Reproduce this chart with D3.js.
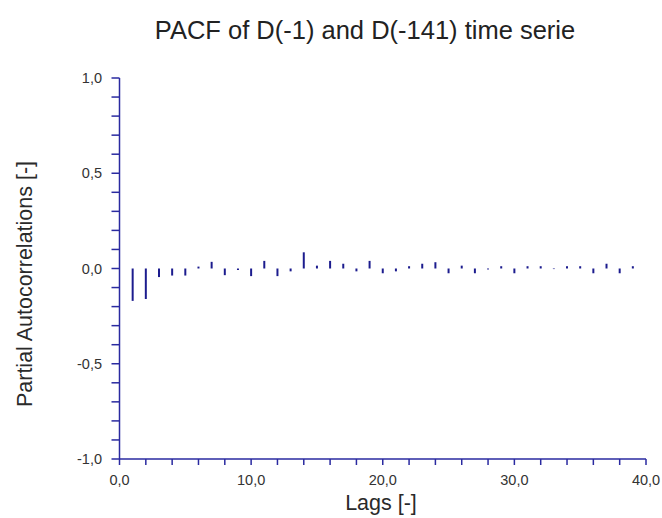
<!DOCTYPE html>
<html lang="en">
<head>
    <meta charset="UTF-8">
    <title>PACF</title>
    <script src="https://d3js.org/d3.v7.min.js"></script>
    <style>
        body {
            margin: 0;
            background: #fff;
            font-family: "Liberation Sans", Arial, sans-serif;
        }
        svg { display: block; }
        .tick-label { font-size: 14.5px; fill: #333; }
        .title { font-size: 25.5px; fill: #222; }
        .axis-title { font-size: 21.5px; fill: #2a2a2a; }
    </style>
</head>
<body>
    <svg width="662" height="518"></svg>

    <script>
        // lags and partial autocorrelation values
        const lags = d3.range(1, 40);
        const pacf = [
            -0.17, -0.16, -0.045, -0.037, -0.037, 0.01, 0.035, -0.035, -0.008, -0.04,
            0.04, -0.04, -0.015, 0.085, 0.015, 0.04, 0.025, -0.015, 0.04, -0.025,
            -0.015, 0.012, 0.025, 0.033, -0.025, 0.015, -0.025, -0.005, 0.012, -0.025,
            0.012, 0.012, -0.003, 0.012, 0.012, -0.025, 0.025, -0.025, 0.012
        ];
        const xTicks = [0, 10, 20, 30, 40];
        const yTicks = [-1, -0.5, 0, 0.5, 1];

        const axisColor = "#2a2aa0";
        const barColor = "#1c1c8e";
        const fmt = v => d3.format(".1f")(v).replace(".", ",").replace("−", "-");

        const svg = d3.select("svg");

        const x = d3.scaleLinear().domain([0, 40]).range([119.5, 646]);
        const y = d3.scaleLinear().domain([-1, 1]).range([459, 78]);

        // bars
        svg.append("g")
            .selectAll("line")
            .data(lags)
            .join("line")
            .attr("x1", d => x(d))
            .attr("x2", d => x(d))
            .attr("y1", y(0))
            .attr("y2", (d, i) => y(pacf[i]))
            .attr("stroke", barColor)
            .attr("stroke-width", 2);

        // y axis
        const yAxis = svg.append("g");
        yAxis.append("line")
            .attr("x1", x(0)).attr("x2", x(0))
            .attr("y1", y(1)).attr("y2", y(-1))
            .attr("stroke", axisColor).attr("stroke-width", 1.5);
        yAxis.selectAll(".ytick")
            .data(d3.range(-10, 11).map(d => d / 10))
            .join("line")
            .attr("x1", x(0) - 8).attr("x2", x(0))
            .attr("y1", d => y(d)).attr("y2", d => y(d))
            .attr("stroke", axisColor).attr("stroke-width", 1.5);
        yAxis.selectAll("text")
            .data(yTicks)
            .join("text")
            .attr("class", "tick-label")
            .attr("x", 102)
            .attr("y", d => y(d))
            .attr("dy", "0.35em")
            .attr("text-anchor", "end")
            .text(fmt);

        // x axis
        const xAxis = svg.append("g");
        xAxis.append("line")
            .attr("x1", x(0)).attr("x2", x(40))
            .attr("y1", y(-1)).attr("y2", y(-1))
            .attr("stroke", axisColor).attr("stroke-width", 1.5);
        xAxis.selectAll(".xtick")
            .data(d3.range(0, 41, 2))
            .join("line")
            .attr("x1", d => x(d)).attr("x2", d => x(d))
            .attr("y1", y(-1)).attr("y2", y(-1) + 6)
            .attr("stroke", axisColor).attr("stroke-width", 1.5);
        xAxis.selectAll("text")
            .data(xTicks)
            .join("text")
            .attr("class", "tick-label")
            .attr("x", d => x(d))
            .attr("y", 485)
            .attr("text-anchor", "middle")
            .text(fmt);

        // titles
        svg.append("text")
            .attr("class", "title")
            .attr("x", 365).attr("y", 39)
            .attr("text-anchor", "middle")
            .text("PACF of D(-1) and D(-141) time serie");

        svg.append("text")
            .attr("class", "axis-title")
            .attr("x", 381).attr("y", 510)
            .attr("text-anchor", "middle")
            .text("Lags [-]");

        svg.append("text")
            .attr("class", "axis-title")
            .attr("transform", "translate(32,284) rotate(-90)")
            .attr("text-anchor", "middle")
            .text("Partial Autocorrelations [-]");
    </script>
</body>
</html>
